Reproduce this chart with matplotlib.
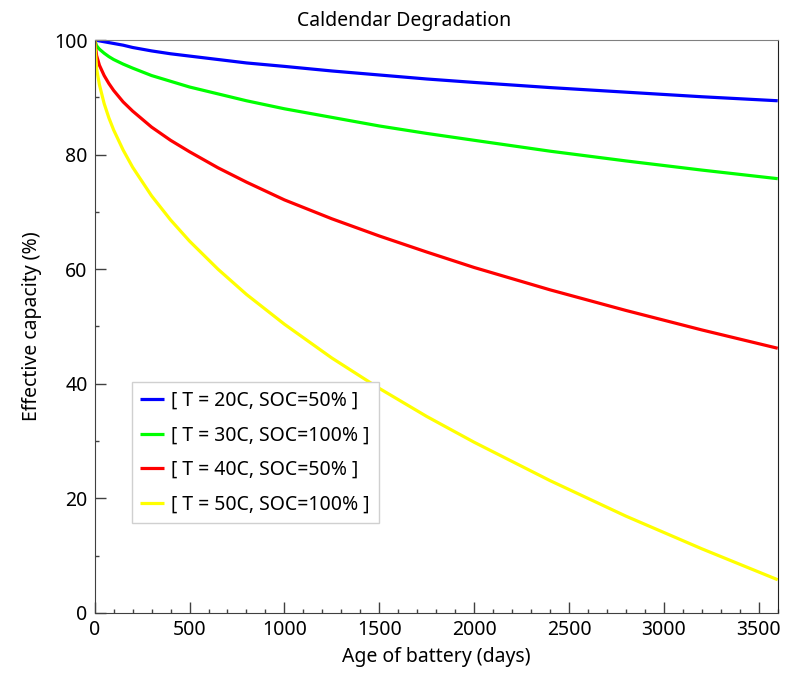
import matplotlib
matplotlib.use('Agg')
import matplotlib.pyplot as plt
from matplotlib.ticker import MultipleLocator

plt.rcParams['font.family'] = ['Noto Sans', 'DejaVu Sans']

# ── data ──
days = [0, 10, 25, 50, 75, 100, 150, 200, 300, 400, 500, 650, 800, 1000,
        1250, 1500, 1750, 2000, 2400, 2800, 3200, 3600]

cap_20c_50 = [100, 99.95, 99.85, 99.7, 99.55, 99.4, 99.1, 98.7, 98.1, 97.6, 97.2,
              96.6, 96.0, 95.4, 94.6, 93.9, 93.2, 92.6, 91.7, 90.9, 90.1, 89.4]
cap_30c_100 = [100, 99.0, 98.4, 97.7, 97.1, 96.6, 95.8, 95.1, 93.8, 92.8, 91.8,
               90.6, 89.4, 88.0, 86.5, 85.0, 83.7, 82.5, 80.6, 78.9, 77.3, 75.8]
cap_40c_50 = [100, 97.3, 95.6, 93.8, 92.4, 91.2, 89.2, 87.6, 84.8, 82.5, 80.5,
              77.7, 75.2, 72.1, 68.8, 65.8, 63.0, 60.3, 56.4, 52.8, 49.4, 46.2]
cap_50c_100 = [100, 95.0, 92.2, 88.9, 86.4, 84.3, 80.8, 77.8, 72.8, 68.6, 64.9,
               60.0, 55.6, 50.4, 44.5, 39.2, 34.3, 29.8, 23.1, 16.9, 11.2, 5.8]

labels = ['[ T = 20C, SOC=50% ]', '[ T = 30C, SOC=100% ]',
          '[ T = 40C, SOC=50% ]', '[ T = 50C, SOC=100% ]']
colors = ['#0000ff', '#00ff00', '#ff0000', '#ffff00']

fig = plt.figure(figsize=(7.87, 6.75), dpi=100)
ax = fig.add_axes([0.1203, 0.0919, 0.8679, 0.8488])

for y, lab, c in zip([cap_20c_50, cap_30c_100, cap_40c_50, cap_50c_100], labels, colors):
    ax.plot(days, y, color=c, lw=2.3, label=lab, solid_capstyle='butt')

ax.set_xlim(0, 3600)
ax.set_ylim(0, 100)
ax.xaxis.set_major_locator(MultipleLocator(500))
ax.xaxis.set_minor_locator(MultipleLocator(100))
ax.yaxis.set_major_locator(MultipleLocator(20))
ax.yaxis.set_minor_locator(MultipleLocator(10))
ax.tick_params(which='both', direction='in', top=False, right=False,
               color='#404040', labelsize=14)
ax.tick_params(which='major', length=8, width=1, pad=5)
ax.tick_params(which='minor', length=3, width=1)

ax.spines['top'].set_color('#808080')
ax.spines['right'].set_color('#202020')
ax.spines['left'].set_color('#404040')
ax.spines['bottom'].set_color('#404040')

ax.set_title('Caldendar Degradation', fontsize=14, pad=10, x=0.453)
ax.set_xlabel('Age of battery (days)', fontsize=14, labelpad=5)
ax.set_ylabel('Effective capacity (%)', fontsize=14, labelpad=9)

leg = ax.legend(loc='lower left', bbox_to_anchor=(0.054, 0.1565), borderaxespad=0,
                fontsize=14, handlelength=1.2, handletextpad=0.4,
                labelspacing=0.75, fancybox=False, framealpha=1,
                borderpad=0.45)
leg.get_frame().set_edgecolor('#d0d0d0')
leg.get_frame().set_linewidth(1)

fig.savefig('out.png', dpi=100)
